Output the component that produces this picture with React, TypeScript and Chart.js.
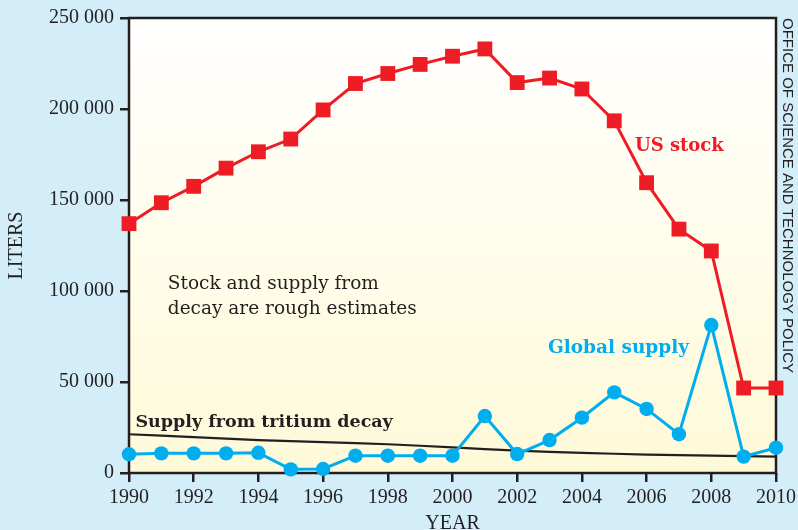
import React, { useEffect, useRef } from 'react';
import { Chart, registerables } from 'chart.js';

Chart.register(...registerables);

const years = [1990, 1991, 1992, 1993, 1994, 1995, 1996, 1997, 1998, 1999, 2000, 2001, 2002, 2003, 2004, 2005, 2006, 2007, 2008, 2009, 2010];
const usStock = [137000, 148500, 157500, 167500, 176500, 183500, 199500, 214000, 219500, 224500, 229000, 233000, 214500, 217000, 211000, 193500, 159500, 134000, 122000, 46700, 46700];
const globalSupply = [10300, 10800, 10800, 10800, 11100, 2000, 2200, 9500, 9500, 9500, 9500, 31300, 10400, 18100, 30400, 44300, 35200, 21300, 81300, 9000, 13900];
const decayYears = [1990, 1992, 1994, 1996, 1998, 2000, 2002, 2004, 2006, 2008, 2010];
const decayValues = [21300, 19700, 18100, 17000, 15800, 14100, 12300, 11100, 10100, 9500, 9000];

const xTitle = 'YEAR';
const yTitle = 'LITERS';
const sourceText = 'OFFICE OF SCIENCE AND TECHNOLOGY POLICY';
const usLabel = 'US stock';
const globalLabel = 'Global supply';
const decayLabel = 'Supply from tritium decay';
const noteLines = ['Stock and supply from', 'decay are rough estimates'];

const RED = '#EE1C25';
const BLUE = '#00AEEF';
const INK = '#231F20';
const SKY = '#D3EDF9';

const decor = {
  id: 'decor',
  beforeDraw(chart: any) {
    const { ctx, chartArea: a, width, height } = chart;
    ctx.save();
    ctx.fillStyle = SKY;
    ctx.fillRect(0, 0, width, height);
    const g = ctx.createLinearGradient(0, a.top, 0, a.bottom);
    g.addColorStop(0, '#FFFFFF');
    g.addColorStop(0.5, '#FFFDEB');
    g.addColorStop(1, '#FEF9D8');
    ctx.fillStyle = g;
    ctx.fillRect(a.left, a.top, a.right - a.left, a.bottom - a.top);
    ctx.restore();
  },
  beforeDatasetsDraw(chart: any) {
    const { ctx, chartArea: a } = chart;
    ctx.save();
    ctx.strokeStyle = INK;
    ctx.lineWidth = 2.5;
    ctx.strokeRect(a.left, a.top, a.right - a.left, a.bottom - a.top);
    ctx.restore();
  },
  afterDatasetsDraw(chart: any) {
    const { ctx, chartArea: a } = chart;
    const xs = chart.scales.x;
    const ys = chart.scales.y;
    const px = (v: number) => xs.getPixelForValue(v);
    const py = (v: number) => ys.getPixelForValue(v);
    ctx.save();
    ctx.textBaseline = 'alphabetic';
    ctx.textAlign = 'left';

    ctx.fillStyle = RED;
    ctx.font = 'bold 18px "DejaVu Serif"';
    ctx.fillText(usLabel, px(2005.64), py(176900));

    ctx.fillStyle = BLUE;
    ctx.font = 'bold 18.5px "DejaVu Serif"';
    ctx.fillText(globalLabel, px(2002.95), py(66100));

    ctx.fillStyle = INK;
    ctx.font = 'bold 17.5px "DejaVu Serif"';
    ctx.fillText(decayLabel, px(1990.2), py(25300));

    ctx.font = '18.5px "DejaVu Serif"';
    ctx.fillText(noteLines[0], px(1991.2), py(101100));
    ctx.fillText(noteLines[1], px(1991.2), py(87400));

    // axis titles
    ctx.font = '20px "Liberation Serif"';
    ctx.textAlign = 'center';
    ctx.fillText(xTitle, (a.left + a.right) / 2, 529);

    ctx.save();
    ctx.translate(17, (a.top + a.bottom) / 2);
    ctx.rotate(-Math.PI / 2);
    ctx.textBaseline = 'middle';
    ctx.fillText(yTitle, 0, 0);
    ctx.restore();

    ctx.save();
    ctx.translate(787, a.top);
    ctx.rotate(Math.PI / 2);
    ctx.textAlign = 'left';
    ctx.textBaseline = 'middle';
    ctx.font = '15px "Liberation Sans"';
    ctx.fillText(sourceText, 0, 0);
    ctx.restore();

    ctx.restore();
  },
};

export default function App() {
  const ref = useRef<HTMLCanvasElement | null>(null);
  useEffect(() => {
    if (!ref.current) return;
    const chart = new Chart(ref.current, {
      type: 'line',
      data: {
        datasets: [
          {
            label: usLabel,
            data: years.map((y, i) => ({ x: y, y: usStock[i] })),
            borderColor: RED,
            backgroundColor: RED,
            borderWidth: 3,
            pointStyle: 'rect',
            pointRadius: 10.5,
            pointBorderWidth: 0,
            tension: 0,
            clip: false as any,
          },
          {
            label: globalLabel,
            data: years.map((y, i) => ({ x: y, y: globalSupply[i] })),
            borderColor: BLUE,
            backgroundColor: BLUE,
            borderWidth: 3,
            pointStyle: 'circle',
            pointRadius: 7.2,
            pointBorderWidth: 0,
            tension: 0,
            clip: false as any,
          },
          {
            label: decayLabel,
            data: decayYears.map((y, i) => ({ x: y, y: decayValues[i] })),
            borderColor: INK,
            backgroundColor: INK,
            borderWidth: 2.2,
            pointRadius: 0,
            tension: 0.3,
            clip: false as any,
          },
        ],
      },
      options: {
        responsive: false,
        animation: false,
        layout: { padding: { top: 18, right: 22, bottom: 0, left: 0 } },
        plugins: { legend: { display: false }, tooltip: { enabled: false } },
        scales: {
          x: {
            type: 'linear',
            min: 1990,
            max: 2010,
            afterFit: (s: any) => { s.height = 57; s.paddingLeft = 0; s.paddingRight = 0; },
            border: { display: false },
            grid: { display: true, drawOnChartArea: false, drawTicks: true, tickLength: 9, color: INK, lineWidth: 2.5 },
            ticks: {
              stepSize: 2,
              padding: 4,
              color: INK,
              font: { family: '"Liberation Serif"', size: 20 },
              callback: (v: any) => String(v),
              maxRotation: 0,
            },
          },
          y: {
            min: 0,
            max: 250000,
            afterFit: (s: any) => { s.width = 129; s.paddingTop = 0; s.paddingBottom = 0; },
            border: { display: false },
            grid: { display: true, drawOnChartArea: false, drawTicks: true, tickLength: 9, color: INK, lineWidth: 2.5 },
            ticks: {
              stepSize: 50000,
              padding: 6,
              color: INK,
              font: { family: '"Liberation Serif"', size: 20 },
              callback: (v: any) => String(v).replace(/\B(?=(\d{3})+(?!\d))/g, ' '),
            },
          },
        },
      },
      plugins: [decor],
    });
    return () => chart.destroy();
  }, []);
  return (
    <div style={{ position: 'absolute', left: 0, top: 0, width: 798, height: 530 }}>
      <canvas ref={ref} width={798} height={530} style={{ display: 'block' }} />
    </div>
  );
}
